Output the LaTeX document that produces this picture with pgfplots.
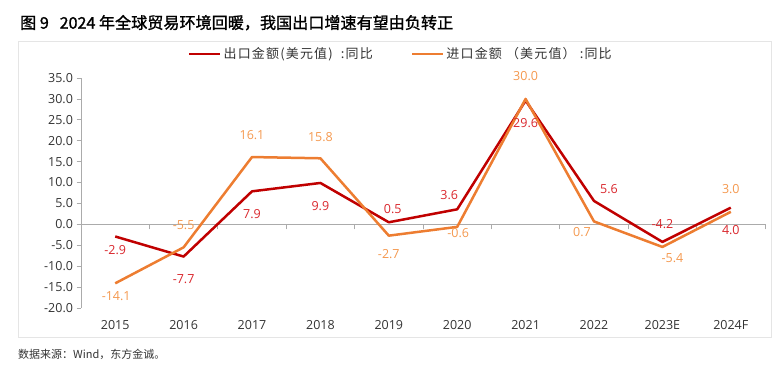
\documentclass[border=0pt]{standalone}
\usepackage{fontspec}
\usepackage{pgfplots}
\pgfplotsset{compat=1.18}
\setmainfont{Open Sans}
\newfontfamily\cjk{Noto Sans CJK SC}
\newfontfamily\cjkleg[LetterSpace=9]{Noto Sans CJK SC}
\newfontfamily\cjktitle[FakeBold=1.3]{Noto Sans CJK SC}
\definecolor{expline}{HTML}{C00000}
\definecolor{explab}{HTML}{D9262C}
\definecolor{impline}{HTML}{ED7D31}
\definecolor{implab}{HTML}{F4984E}
\definecolor{axgray}{HTML}{ABABAB}
\definecolor{txt}{HTML}{333333}
\begin{document}
\begin{tikzpicture}[x=1pt,y=1pt]
\draw[draw=black!10, line width=0.8pt] (18,29) rectangle (771,324.3);
\node[anchor=west, inner sep=0pt, text=black] at (20,343.3) {\fontsize{16.1}{19}\selectfont\cjktitle 图 9\ \ \ 2024 年全球贸易环境回暖，我国出口增速有望由负转正};
\node[anchor=west, inner sep=0pt, text=txt] at (18,12) {\fontsize{11}{13}\selectfont\cjk 数据来源：Wind，东方金诚。};
% zero line with category separators
\begin{axis}[
  at={(81pt,58pt)}, anchor=south west, scale only axis,
  width=684pt, height=230pt,
  xmin=-0.5, xmax=9.5, ymin=-20, ymax=35,
  axis x line=middle, axis y line=none,
  x axis line style={-, draw=axgray, line width=1.6pt},
  xtick={0.5,1.5,...,9.5}, xticklabels={},
  tick align=outside, major tick length=5pt,
  xtick style={draw=axgray, line width=0.8pt},
  ytick=\empty,
]
\end{axis}
\begin{axis}[
  at={(81pt,58pt)}, anchor=south west, scale only axis,
  width=684pt, height=230pt,
  xmin=-0.5, xmax=9.5, ymin=-20, ymax=35,
  axis y line*=left, axis x line*=bottom,
  x axis line style={draw=none},
  y axis line style={-, draw=axgray, line width=0.8pt},
  xtick={0,...,9},
  xticklabels={2015,2016,2017,2018,2019,2020,2021,2022,2023E,2024F},
  xtick style={draw=none},
  ytick={-20,-15,...,35},
  ytick style={draw=axgray, line width=0.8pt},
  tick align=outside, major tick length=4.5pt,
  yticklabel={\pgfmathprintnumber[fixed,fixed zerofill,precision=1]{\tick}},
  /pgf/number format/assume math mode=true,
  ticklabel style={font=\fontsize{12.5}{14}\selectfont, text=txt},
  xticklabel style={yshift=-4pt},
  clip=false,
  legend columns=2,
  legend style={at={(0.152,1.104)}, anchor=west, draw=none, fill=none,
    font=\fontsize{13}{15}\selectfont\cjkleg, text=txt,
    /tikz/every even column/.append style={column sep=36pt}},
  legend image code/.code={\draw[#1, line width=2.5pt] (0pt,0pt) -- (31pt,0pt);},
  nodes near coords,
  point meta=y,
  nodes near coords={\pgfmathprintnumber[fixed,fixed zerofill,precision=1]{\pgfplotspointmeta}},
  visualization depends on={\thisrow{dx} \as \dx},
  visualization depends on={\thisrow{dy} \as \dy},
  every node near coord/.append style={anchor=center, xshift=\dx pt, yshift=\dy pt,
    font=\fontsize{12.5}{14}\selectfont, /pgf/number format/assume math mode=true},
]
\addplot[expline, line width=2.5pt, line join=round, mark=none,
  every node near coord/.append style={text=explab}] table[x=x,y=y] {
x y dx dy
0 -2.9 0 -13.6
1 -7.7 0 -22.3
2 7.9 0 -22.3
3 9.9 0 -23
4 0.5 4 13.5
5 3.6 -8 14.3
6 29.6 0 -22.8
7 5.6 15 11.7
8 -4.2 0 17.5
9 4.0 0 -22.4
};
\addlegendentry{出口金额(美元值)\ \ :同比}
\addplot[impline, line width=2.5pt, line join=round, mark=none,
  every node near coord/.append style={text=implab}] table[x=x,y=y] {
x y dx dy
0 -14.1 1 -13
1 -5.5 0 22
2 16.1 0 22
3 15.8 0 21.7
4 -2.7 0 -18
5 -0.6 1 -6.5
6 30.0 0 22.5
7 0.7 -12 -10.3
8 -5.4 10 -11
9 3.0 0 22.5
};
\addlegendentry{进口金额\ （美元值）\ :同比}
\end{axis}
\pgfresetboundingbox
\useasboundingbox (0,0) rectangle (773,366);
\end{tikzpicture}
\end{document}
